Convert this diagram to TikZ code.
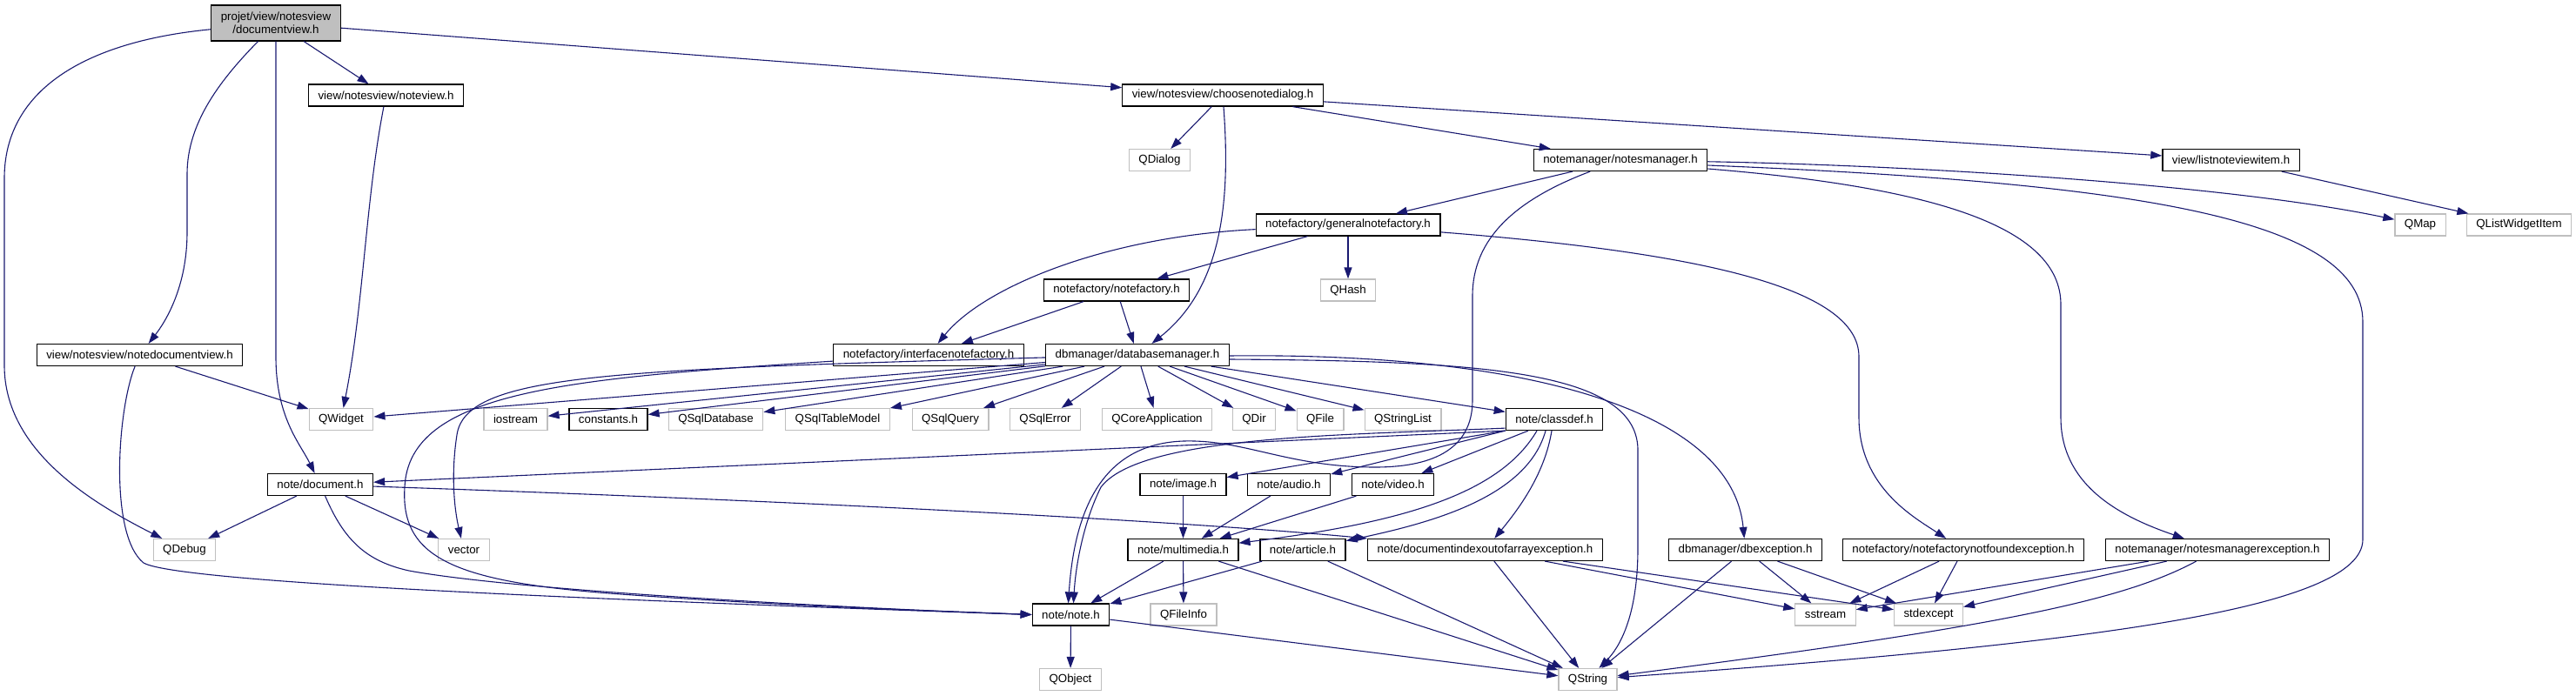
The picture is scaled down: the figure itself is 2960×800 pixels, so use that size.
\documentclass[tikz,border=0pt]{standalone}
\usepackage{fontspec}
\setmainfont{Liberation Sans}
\usepackage{xcolor}
\usetikzlibrary{arrows.meta}
\definecolor{incblue}{RGB}{25,25,112}
\definecolor{extgray}{RGB}{191,191,191}

\begin{document}
\begin{tikzpicture}[
  x=1pt,y=-1pt,
  font=\fontsize{13.3}{15}\selectfont,
  hd/.style={draw=black,line width=1.2pt,fill=white,rectangle,minimum height=25pt,inner xsep=11pt,inner ysep=0pt},
  ext/.style={hd,draw=extgray},
  cur/.style={hd,fill=extgray,align=center,minimum height=41pt},
  >={Triangle[length=13pt,width=9pt]},
  inc/.style={->,incblue,line width=1.1pt}
]
\useasboundingbox (0,0) rectangle (2960,800);

% ---------------- row 0: the documented file ----------------
\node[cur] (dv) at (317,26.5) {projet/view/notesview\\/documentview.h};

% ---------------- rows 1-5 ----------------
\node[hd]  (nv)    at (443.5,109.5) {view/notesview/noteview.h};
\node[hd]  (cnd)   at (1405,109.5)  {view/notesview/choosenotedialog.h};
\node[ext] (qdlg)  at (1332.5,184)  {QDialog};
\node[hd]  (nm)    at (1862,184)    {notemanager/notesmanager.h};
\node[hd]  (lnvi)  at (2563.5,184)  {view/listnoteviewitem.h};
\node[hd]  (gnf)   at (1549,258.5)  {notefactory/generalnotefactory.h};
\node[ext] (qmap)  at (2781,258.5)  {QMap};
\node[ext] (qlwi)  at (2894.5,258.5) {QListWidgetItem};
\node[hd]  (nf)    at (1283,333.5)  {notefactory/notefactory.h};
\node[ext] (qhash) at (1549,333.5)  {QHash};
\node[hd]  (ndv)   at (160.5,408)   {view/notesview/notedocumentview.h};
\node[hd]  (inf)   at (1067,408)    {notefactory/interfacenotefactory.h};
\node[hd]  (dbm)   at (1307,408)    {dbmanager/databasemanager.h};

% ---------------- row 6: what databasemanager.h pulls in ----------------
\node[ext] (qwid)  at (392,482)    {QWidget};
\node[ext] (ios)   at (592.5,482)  {iostream};
\node[hd]  (cst)   at (699,482)    {constants.h};
\node[ext] (qdb)   at (822.5,482)  {QSqlDatabase};
\node[ext] (qtm)   at (962.5,482)  {QSqlTableModel};
\node[ext] (qq)    at (1092,482)   {QSqlQuery};
\node[ext] (qerr)  at (1201,482)   {QSqlError};
\node[ext] (qapp)  at (1329.5,482) {QCoreApplication};
\node[ext] (qdir)  at (1441,482)   {QDir};
\node[ext] (qfile) at (1517,482)   {QFile};
\node[ext] (qsl)   at (1612,482)   {QStringList};
\node[hd]  (cdef)  at (1786,482)   {note/classdef.h};

% ---------------- rows 7-10 ----------------
\node[hd]  (doc)   at (368,557)    {note/document.h};
\node[hd]  (img)   at (1359.5,557) {note/image.h};
\node[hd]  (aud)   at (1481,557)   {note/audio.h};
\node[hd]  (vid)   at (1600.5,557) {note/video.h};
\node[ext] (qdbg)  at (212,632)    {QDebug};
\node[ext] (vec)   at (533,632)    {vector};
\node[hd]  (mm)    at (1359.5,632) {note/multimedia.h};
\node[hd]  (art)   at (1497,632)   {note/article.h};
\node[hd]  (dioe)  at (1706.5,632) {note/documentindexoutofarrayexception.h};
\node[hd]  (dbe)   at (2005.5,632) {dbmanager/dbexception.h};
\node[hd]  (nfnfe) at (2256,632)   {notefactory/notefactorynotfoundexception.h};
\node[hd]  (nme)   at (2548,632)   {notemanager/notesmanagerexception.h};
\node[hd]  (note)  at (1230.5,706.5) {note/note.h};
\node[ext] (qfi)   at (1360,706.5) {QFileInfo};
\node[ext] (sst)   at (2097.5,706.5) {sstream};
\node[ext] (stde)  at (2216,706.5) {stdexcept};
\node[ext] (qobj)  at (1230,781)   {QObject};
\node[ext] (qstr)  at (1824.5,781) {QString};

% ---------------- includes of documentview.h ----------------
\draw[inc] (dv) -- (nv);
\draw[inc] (dv) -- (cnd);
\draw[inc] (dv) .. controls (255,90) and (215,140) .. (215,200) -- (215,267)
  .. controls (215,330) and (190,370) .. (ndv);
\draw[inc] (dv.south) -- (317,410) .. controls (317,480) and (345,510) .. (doc);
\draw[inc] (dv) .. controls (95,48) and (5,105) .. (5,205) -- (5,420)
  .. controls (5,520) and (110,580) .. (qdbg);

% ---------------- views ----------------
\draw[inc] (nv) .. controls (420,230) and (418,350) .. (qwid);
\draw[inc] (ndv) -- (qwid);
\draw[inc] (ndv) .. controls (135,470) and (125,615) .. (165,647)
  .. controls (205,670) and (700,690) .. (note.west);
\draw[inc] (cnd) -- (qdlg);
\draw[inc] (cnd) .. controls (1414,230) and (1405,330) .. (dbm);
\draw[inc] (cnd) -- (nm);
\draw[inc] (cnd) -- (lnvi);
\draw[inc] (lnvi) -- (qlwi);

% ---------------- document.h ----------------
\draw[inc] (doc) -- (qdbg);
\draw[inc] (doc) -- (vec);
\draw[inc] (doc) .. controls (395,620) and (420,645) .. (470,656)
  .. controls (600,680) and (1000,700) .. (note.west);
\draw[inc] (doc) .. controls (900,575) and (1350,598) .. (dioe.north west);

% ---------------- notesmanager.h ----------------
\draw[inc] (nm) -- (gnf);
\draw[inc] (nm) .. controls (2200,190) and (2560,212) .. (qmap);
\draw[inc] ([yshift=-6pt]nm.east) .. controls (2450,210) and (2715,250) .. (2715,370) -- (2715,620)
  .. controls (2715,700) and (2400,740) .. (qstr);
\draw[inc] ([yshift=-10pt]nm.east) .. controls (2220,215) and (2368,260) .. (2368,350) -- (2368,480)
  .. controls (2368,560) and (2440,595) .. (nme);
\draw[inc] (nm) .. controls (1740,230) and (1692,275) .. (1692,340) -- (1692,460)
  .. controls (1692,520) and (1640,537) .. (1580,537)
  .. controls (1480,537) and (1430,505) .. (1360,507)
  .. controls (1270,510) and (1235,580) .. ([xshift=-3pt]note.north);

% ---------------- factories ----------------
\draw[inc] (gnf) -- (nf);
\draw[inc] (gnf) -- (qhash);
\draw[inc] (gnf) .. controls (1270,272) and (1130,330) .. (inf);
\draw[inc] (gnf) .. controls (1950,290) and (2136,330) .. (2136,410) -- (2136,480)
  .. controls (2136,560) and (2200,595) .. (nfnfe);
\draw[inc] (nf) -- (inf);
\draw[inc] (nf) -- (dbm);
\draw[inc] (inf) .. controls (650,435) and (470,450) .. (465,560)
  .. controls (460,640) and (520,668) .. (700,682)
  .. controls (900,697) and (1100,703) .. (note.west);

% ---------------- databasemanager.h ----------------
\foreach \t in {qwid,ios,cst,qdb,qtm,qq,qerr,qapp,qdir,qfile,qsl,cdef}
  \draw[inc] (dbm) -- (\t);
\draw[inc] (dbm) .. controls (700,425) and (535,430) .. (525,500)
  .. controls (518,545) and (522,585) .. (vec);
\draw[inc] ([yshift=-1pt]dbm.east) .. controls (1750,405) and (1990,470) .. (dbe);
\draw[inc] ([yshift=-5pt]dbm.east) .. controls (1700,415) and (1885,425) .. (1882,520) -- (1882,630)
  .. controls (1882,710) and (1860,745) .. (qstr);

% ---------------- classdef.h ----------------
\draw[inc] (cdef.south west) -- (doc);
\draw[inc] (cdef.south west) -- (img);
\draw[inc] (cdef.south west) -- (aud);
\draw[inc] ([yshift=3pt]cdef.south west) .. controls (1550,500) and (1310,500) .. (1265,560)
  .. controls (1245,600) and (1236,650) .. ([xshift=3pt]note.north);
\draw[inc] ([xshift=-30pt]cdef.south) -- (vid);
\draw[inc] ([xshift=-20pt]cdef.south) .. controls (1725,565) and (1620,600) .. (mm);
\draw[inc] ([xshift=-10pt]cdef.south) .. controls (1755,570) and (1650,600) .. (art);
\draw[inc] ([xshift=-3pt]cdef.south) .. controls (1775,545) and (1745,585) .. (dioe);

% ---------------- note headers ----------------
\draw[inc] (img) -- (mm);
\draw[inc] (aud) -- (mm);
\draw[inc] (vid) -- (mm);
\draw[inc] (mm) -- (note);
\draw[inc] (mm) -- (qfi);
\draw[inc] (mm) -- (qstr);
\draw[inc] (art) -- (note);
\draw[inc] (art) -- (qstr);
\draw[inc] (note) -- (qobj);
\draw[inc] (note) -- (qstr);

% ---------------- exceptions ----------------
\foreach \s in {dioe,dbe} {
  \draw[inc] (\s) -- (qstr);
  \draw[inc] (\s) -- (sst);
  \draw[inc] (\s) -- (stde);
}
\draw[inc] (nfnfe) -- (sst);
\draw[inc] (nfnfe) -- (stde);
\draw[inc] (nme) -- (sst);
\draw[inc] (nme) -- (stde);
\draw[inc] (nme) .. controls (2440,690) and (2300,720) .. (qstr);
\end{tikzpicture}
\end{document}
